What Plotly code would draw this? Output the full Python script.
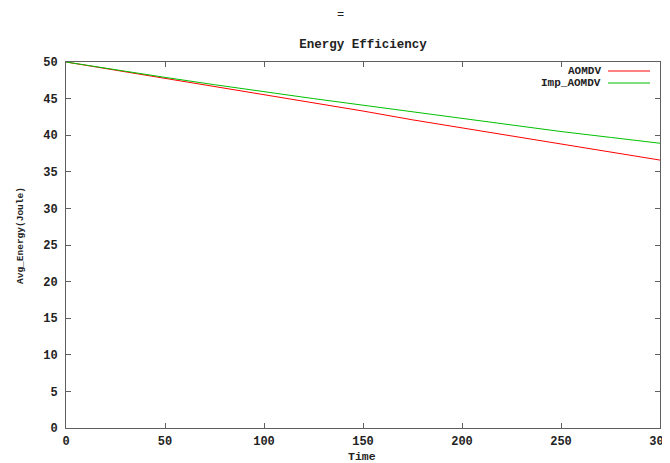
import plotly.graph_objects as go

time = [0, 25, 50, 75, 100, 125, 150, 175, 200, 225, 250, 275, 300]
aomdv = [50.0, 48.9, 47.8, 46.7, 45.6, 44.4, 43.3, 42.1, 41.0, 39.9, 38.8, 37.7, 36.6]
imp_aomdv = [50.0, 48.9, 47.9, 46.9, 45.9, 45.0, 44.1, 43.2, 42.2, 41.3, 40.5, 39.7, 38.9]
series_names = ["AOMDV", "Imp_AOMDV"]
series_colors = ["#ff0000", "#00c000"]
x_ticks = [0, 50, 100, 150, 200, 250, 300]
y_ticks = [0, 5, 10, 15, 20, 25, 30, 35, 40, 45, 50]

FONT = "Liberation Mono"
TXT = "#222222"
OFF = 8  # page body margin offset
W, H = 662, 455
# plot area in screenshot pixels: x 66..660, y 62..428
L = 66 - OFF
T = 62 - OFF
R = W - (660 - OFF)
B = H - (428 - OFF)

fig = go.Figure()
for name, ys, col in zip(series_names, [aomdv, imp_aomdv], series_colors):
    fig.add_trace(go.Scatter(x=time, y=ys, mode="lines", name=name,
                             line=dict(color=col, width=1), showlegend=False))

axis_common = dict(showgrid=False, zeroline=False, showline=True, linecolor="#606060",
                   linewidth=1, mirror="ticks", ticks="inside", ticklen=5,
                   tickcolor="#606060", automargin=False, ticklabeloverflow="allow",
                   tickfont=dict(family=FONT, size=12, color=TXT, weight="bold"))

fig.update_layout(
    width=W, height=H,
    margin=dict(l=L, r=R, t=T, b=B, autoexpand=False),
    paper_bgcolor="white", plot_bgcolor="white",
    title=dict(text="Energy Efficiency", x=0.5, xref="paper", y=1 - (44 - OFF) / H,
               yanchor="middle", xanchor="center",
               font=dict(family=FONT, size=12.5, color=TXT, weight="bold")),
    xaxis=dict(range=[0, 300], tickvals=x_ticks, ticktext=[str(v) for v in x_ticks],
               ticklabelstandoff=2, **axis_common),
    yaxis=dict(range=[0, 50], tickvals=y_ticks, ticktext=[str(v) for v in y_ticks],
               ticklabelstandoff=5, **axis_common),
)


def px_to_paper_x(px):
    return (px - OFF - L) / (W - L - R)


def px_to_paper_y(py):
    return 1 - (py - OFF - T) / (H - T - B)


fig.add_annotation(text="=", x=px_to_paper_x(340), y=px_to_paper_y(15), xref="paper",
                   yref="paper", xanchor="center", yanchor="middle", showarrow=False,
                   font=dict(family=FONT, size=12, color=TXT))

# axis titles
fig.add_annotation(text="Time", x=px_to_paper_x(362), y=px_to_paper_y(456), xref="paper",
                   yref="paper", xanchor="center", yanchor="middle", showarrow=False,
                   font=dict(family=FONT, size=11.5, color=TXT, weight="bold"))
fig.add_annotation(text="Avg_Energy(Joule)", x=px_to_paper_x(20), y=px_to_paper_y(236),
                   xref="paper", yref="paper", xanchor="center", yanchor="middle",
                   textangle=-90, showarrow=False,
                   font=dict(family=FONT, size=9.5, color=TXT, weight="bold"))

# gnuplot-style legend: text right-aligned, then a line sample
legend_rows_y = [71, 83]
for name, col, py in zip(series_names, series_colors, legend_rows_y):
    fig.add_annotation(text=name, x=px_to_paper_x(603), y=px_to_paper_y(py),
                       xref="paper", yref="paper", xanchor="right", yanchor="middle",
                       showarrow=False,
                       font=dict(family=FONT, size=11, color=TXT, weight="bold"))
    fig.add_shape(type="line", xref="paper", yref="paper",
                  x0=px_to_paper_x(608), x1=px_to_paper_x(650),
                  y0=px_to_paper_y(py), y1=px_to_paper_y(py),
                  line=dict(color=col, width=1))

fig.write_html("out.html")
